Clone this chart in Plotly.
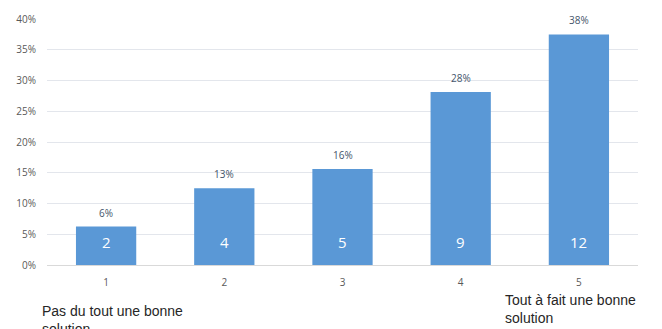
import plotly.graph_objects as go

categories = ["1", "2", "3", "4", "5"]
counts = [2, 4, 5, 9, 12]
percents = [6.25, 12.5, 15.625, 28.125, 37.5]
pct_labels = ["6%", "13%", "16%", "28%", "38%"]
y_ticks = [0, 5, 10, 15, 20, 25, 30, 35, 40]
y_tick_labels = [f"{v}%" for v in y_ticks]

W, H = 662, 329
L, R, T, B = 47, 24, 19, 64

fig = go.Figure()
fig.add_trace(go.Bar(
    x=categories, y=percents,
    marker=dict(color="#5a98d6", line=dict(width=0)),
    width=0.51,
    showlegend=False,
    hoverinfo="skip",
))

for i, (n, v, lab) in enumerate(zip(counts, percents, pct_labels)):
    fig.add_annotation(x=i, y=0, xref="x", yref="y", text=str(n), showarrow=False,
                       yanchor="bottom", yshift=11,
                       font=dict(family="Open Sans, Lato, sans-serif", size=15, color="white"))
    fig.add_annotation(x=i, y=v, xref="x", yref="y", text=lab, showarrow=False,
                       yanchor="bottom", yshift=5,
                       font=dict(family="Open Sans, Lato, sans-serif", size=10, color="#44546a"))

PH = H - T - B
PW = W - L - R
fig.add_annotation(xref="paper", yref="paper", x=(40 - L) / PW, y=-(301 - (H - B)) / PH,
                   xanchor="left", yanchor="top", align="left", showarrow=False,
                   text="Pas du tout une bonne<br>solution",
                   font=dict(family="Liberation Sans, Arial, sans-serif", size=14, color="#262626"))
fig.add_annotation(xref="paper", yref="paper", x=(503 - L) / PW, y=-(290 - (H - B)) / PH,
                   xanchor="left", yanchor="top", align="left", showarrow=False,
                   text="Tout à fait une bonne<br>solution",
                   font=dict(family="Liberation Sans, Arial, sans-serif", size=14, color="#262626"))

fig.update_layout(
    width=W, height=H,
    margin=dict(l=L, r=R, t=T, b=B, pad=0, autoexpand=False),
    paper_bgcolor="white", plot_bgcolor="white",
    bargap=0.49,
    xaxis=dict(type="category", range=[-0.5, 4.5], showgrid=False, showline=True,
               linecolor="#d9d9d9", linewidth=1, ticks="", automargin=False,
               ticklabelstandoff=8,
               tickfont=dict(family="Open Sans, Lato, sans-serif", size=10, color="#595959")),
    yaxis=dict(range=[0, 40], tickvals=y_ticks, ticktext=y_tick_labels,
               showgrid=True, gridcolor="#e3e6ec", gridwidth=1, zeroline=False,
               showline=False, ticks="", ticklabelstandoff=10, automargin=False,
               tickfont=dict(family="Open Sans, Lato, sans-serif", size=10, color="#595959")),
)

fig.write_html("out.html", config={"displayModeBar": False},
               post_script="document.body.style.margin='0';")
